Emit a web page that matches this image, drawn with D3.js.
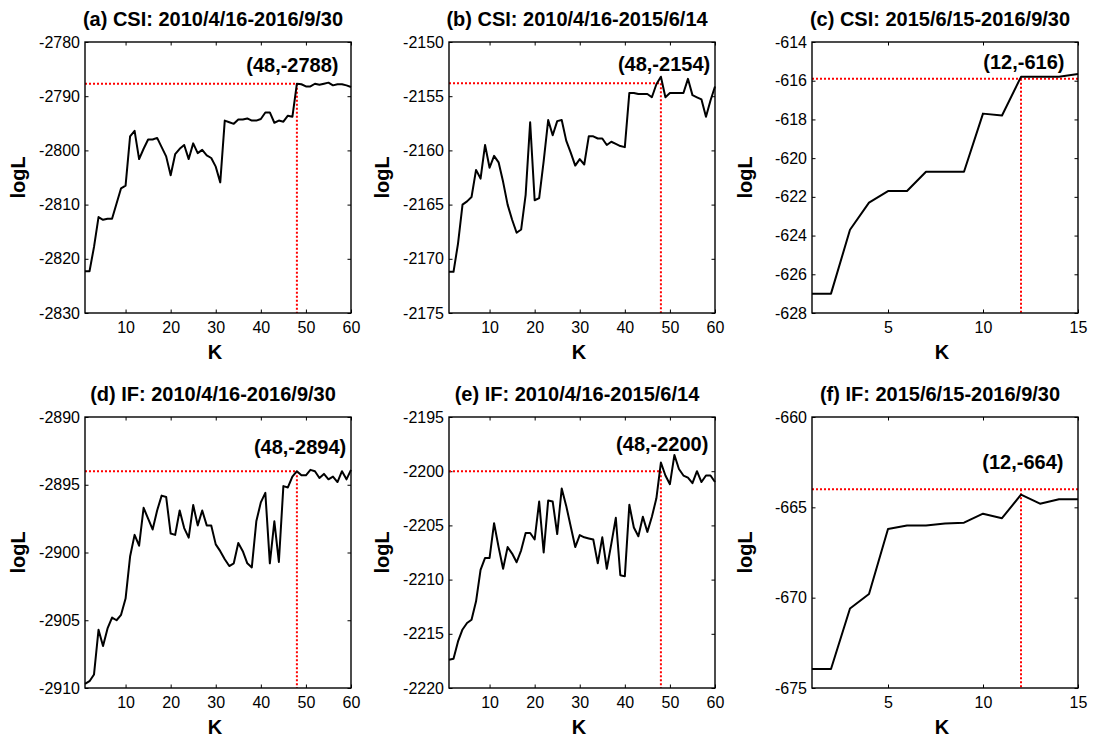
<!DOCTYPE html>
<html>
<head>
<meta charset="utf-8">
<script src="https://cdn.jsdelivr.net/npm/d3@7"></script>
<style>
  body { margin: 0; background: #fff; }
  svg { display: block; font-family: "Liberation Sans", Arial, Helvetica, sans-serif; }
</style>
</head>
<body>
<svg id="chart" width="1094" height="737"></svg>
<script>
// ---- data ----
const titles = [
  "(a) CSI: 2010/4/16-2016/9/30",
  "(b) CSI: 2010/4/16-2015/6/14",
  "(c) CSI: 2015/6/15-2016/9/30",
  "(d) IF: 2010/4/16-2016/9/30",
  "(e) IF: 2010/4/16-2015/6/14",
  "(f) IF: 2015/6/15-2016/9/30"
];

const kLong = d3.range(1, 61);
const kShort = d3.range(1, 16);

const logLA = [
  -2822.3, -2822.3, -2817.8, -2812.3, -2812.8, -2812.6, -2812.6, -2809.8, -2807.0, -2806.5,
  -2797.4, -2796.4, -2801.6, -2799.7, -2798.0, -2798.0, -2797.7, -2799.4, -2801.1, -2804.6,
  -2800.7, -2799.7, -2799.0, -2801.6, -2798.7, -2800.5, -2799.9, -2800.9, -2801.4, -2803.0,
  -2805.9, -2794.5, -2794.8, -2795.1, -2794.3, -2794.3, -2794.1, -2794.5, -2794.5, -2794.2,
  -2793.0, -2793.0, -2794.9, -2794.5, -2794.7, -2793.6, -2793.8, -2787.7, -2787.8, -2788.2,
  -2788.2, -2787.7, -2787.9, -2787.7, -2787.5, -2788.0, -2787.8, -2787.8, -2788.0, -2788.3
];
const logLB = [
  -2171.2, -2171.2, -2168.6, -2165.0, -2164.7, -2164.3, -2161.8, -2162.6, -2159.5, -2161.6,
  -2160.5, -2161.1, -2162.9, -2165.0, -2166.4, -2167.6, -2167.3, -2164.1, -2157.4, -2164.6,
  -2164.4, -2161.0, -2157.2, -2158.6, -2157.3, -2157.2, -2159.1, -2160.2, -2161.4, -2160.8,
  -2161.3, -2158.7, -2158.7, -2158.9, -2158.9, -2159.5, -2159.2, -2159.4, -2159.6, -2159.7,
  -2154.7, -2154.7, -2154.8, -2154.8, -2154.8, -2155.1, -2153.9, -2153.2, -2155.1, -2154.7,
  -2154.7, -2154.7, -2154.7, -2153.4, -2154.9, -2155.1, -2155.3, -2156.9, -2155.4, -2154.1
];
const logLC = [
  -627.0, -627.0, -623.7, -622.3, -621.7, -621.7, -620.7, -620.7, -620.7, -617.7,
  -617.8, -615.8, -615.8, -615.8, -615.65
];
const logLD = [
  -2909.7, -2909.5, -2909.0, -2905.7, -2906.9, -2905.6, -2904.8, -2905.0, -2904.6, -2903.4,
  -2900.3, -2898.7, -2899.5, -2896.7, -2897.5, -2898.3, -2896.9, -2895.8, -2895.9, -2898.6,
  -2898.7, -2896.9, -2898.2, -2898.9, -2896.5, -2898.0, -2896.9, -2898.0, -2898.0, -2899.4,
  -2899.9, -2900.5, -2901.0, -2900.8, -2899.3, -2899.9, -2900.8, -2901.1, -2897.7, -2896.3,
  -2895.6, -2900.8, -2897.7, -2900.7, -2895.1, -2895.2, -2894.4, -2894.0, -2894.3, -2894.3,
  -2893.9, -2894.0, -2894.5, -2894.2, -2894.6, -2894.4, -2894.8, -2894.0, -2894.6, -2893.9
];
const logLE = [
  -2217.4, -2217.3, -2215.7, -2214.6, -2214.0, -2213.7, -2212.0, -2209.1, -2208.0, -2208.0,
  -2204.8, -2207.0, -2209.0, -2207.0, -2207.6, -2208.4, -2207.3, -2205.7, -2205.7, -2206.3,
  -2202.8, -2207.5, -2202.7, -2202.8, -2205.8, -2201.6, -2203.2, -2205.1, -2207.0, -2205.9,
  -2206.1, -2206.2, -2206.3, -2208.5, -2206.1, -2209.0, -2206.7, -2204.3, -2209.6, -2209.7,
  -2203.1, -2205.2, -2206.0, -2204.2, -2205.6, -2204.2, -2202.5, -2199.2, -2200.4, -2201.2,
  -2198.5, -2199.8, -2200.4, -2200.6, -2201.1, -2200.0, -2201.0, -2200.4, -2200.4, -2201.0
];
const logLF = [
  -673.95, -673.95, -670.6, -669.8, -666.2, -666.0, -666.0, -665.9, -665.85, -665.35,
  -665.6, -664.3, -664.8, -664.55, -664.55
];

const yTicksA = [-2830, -2820, -2810, -2800, -2790, -2780];
const yTicksB = [-2175, -2170, -2165, -2160, -2155, -2150];
const yTicksC = [-628, -626, -624, -622, -620, -618, -616, -614];
const yTicksD = [-2910, -2905, -2900, -2895, -2890];
const yTicksE = [-2220, -2215, -2210, -2205, -2200, -2195];
const yTicksF = [-675, -670, -665, -660];
const xTicksLong = [10, 20, 30, 40, 50, 60];
const xTicksShort = [5, 10, 15];

// optimum marked by the red dotted guides
const bestK = [48, 48, 12, 48, 48, 12];
const bestLogL = [-2787.7, -2153.8, -615.9, -2894.0, -2200.0, -664.0];
const bestLabels = ["(48,-2788)", "(48,-2154)", "(12,-616)", "(48,-2894)", "(48,-2200)", "(12,-664)"];
const guideEndK = [48, 48, 15, 48, 48, 15];

// ---- layout ----
const colX = [85, 449, 812];
const rowY = [42, 417];
const plotW = 266, plotH = 271;
const font = '"Liberation Sans", Arial, Helvetica, sans-serif';

// label anchors in data units (K, logL)
const labelAt = [
  [47.0, -2785.5], [48.7, -2152.7], [12.15, -615.4],
  [48.7, -2892.7], [48.3, -2198.1], [12.1, -662.9]
];

const panels = [
  { k: kLong, v: logLA, yt: yTicksA, xt: xTicksLong },
  { k: kLong, v: logLB, yt: yTicksB, xt: xTicksLong },
  { k: kShort, v: logLC, yt: yTicksC, xt: xTicksShort },
  { k: kLong, v: logLD, yt: yTicksD, xt: xTicksLong },
  { k: kLong, v: logLE, yt: yTicksE, xt: xTicksLong },
  { k: kShort, v: logLF, yt: yTicksF, xt: xTicksShort }
];

const plain = d => String(d);   // keep "-2780", no thousands comma

const svg = d3.select("#chart");
svg.append("rect").attr("width", 1094).attr("height", 737).attr("fill", "#fff");

function styleAxis(sel) {
  sel.attr("font-family", font).attr("font-size", 16);
  sel.select(".domain").remove();
  sel.selectAll(".tick line").attr("stroke", "#000").attr("stroke-width", 1);
  sel.selectAll(".tick text").attr("fill", "#000");
}

panels.forEach((p, i) => {
  const g = svg.append("g")
    .attr("transform", `translate(${colX[i % 3]},${rowY[Math.floor(i / 3)]})`);

  const x = d3.scaleLinear().domain(d3.extent(p.k)).range([0, plotW]);
  const y = d3.scaleLinear().domain(d3.extent(p.yt)).range([plotH, 0]);

  // axes (MATLAB style: inward ticks on all four sides)
  g.append("g").attr("transform", `translate(0,${plotH})`)
    .call(d3.axisBottom(x).tickValues(p.xt).tickFormat(plain)
      .tickSizeInner(-3.5).tickSizeOuter(0).tickPadding(9))
    .call(styleAxis);
  g.append("g")
    .call(d3.axisLeft(y).tickValues(p.yt).tickFormat(plain)
      .tickSizeInner(-3.5).tickSizeOuter(0).tickPadding(5))
    .call(styleAxis);
  g.append("g")
    .call(d3.axisTop(x).tickValues(p.xt).tickFormat("").tickSizeInner(-3.5).tickSizeOuter(0))
    .call(styleAxis);
  g.append("g").attr("transform", `translate(${plotW},0)`)
    .call(d3.axisRight(y).tickValues(p.yt).tickFormat("").tickSizeInner(-3.5).tickSizeOuter(0))
    .call(styleAxis);

  // red dotted guides
  g.append("line")
    .attr("x1", x(p.k[0])).attr("x2", x(guideEndK[i]))
    .attr("y1", y(bestLogL[i])).attr("y2", y(bestLogL[i]))
    .attr("stroke", "#ff0000").attr("stroke-width", 2).attr("stroke-dasharray", "2,2");
  g.append("line")
    .attr("x1", x(bestK[i])).attr("x2", x(bestK[i]))
    .attr("y1", y(bestLogL[i])).attr("y2", plotH)
    .attr("stroke", "#ff0000").attr("stroke-width", 2).attr("stroke-dasharray", "2,2");

  // curve
  g.append("path")
    .datum(p.v)
    .attr("fill", "none")
    .attr("stroke", "#000")
    .attr("stroke-width", 2)
    .attr("stroke-linejoin", "round")
    .attr("d", d3.line().x((d, j) => x(p.k[j])).y(d => y(d)));

  // box
  g.append("rect")
    .attr("width", plotW).attr("height", plotH)
    .attr("fill", "none").attr("stroke", "#000").attr("stroke-width", 1.4);

  // optimum label
  g.append("text")
    .attr("x", x(labelAt[i][0])).attr("y", y(labelAt[i][1]))
    .attr("text-anchor", "middle")
    .attr("font-size", 20).attr("font-weight", "bold")
    .text(bestLabels[i]);

  // title and axis labels
  g.append("text")
    .attr("x", plotW / 2 - 5).attr("y", -16)
    .attr("text-anchor", "middle")
    .attr("font-size", 20).attr("font-weight", "bold")
    .text(titles[i]);
  g.append("text")
    .attr("x", plotW / 2 - 3).attr("y", plotH + 46)
    .attr("text-anchor", "middle")
    .attr("font-size", 20).attr("font-weight", "bold")
    .text("K");
  g.append("text")
    .attr("transform", `translate(-60,${plotH / 2}) rotate(-90)`)
    .attr("text-anchor", "middle")
    .attr("font-size", 20).attr("font-weight", "bold")
    .text("logL");
});
</script>
</body>
</html>
